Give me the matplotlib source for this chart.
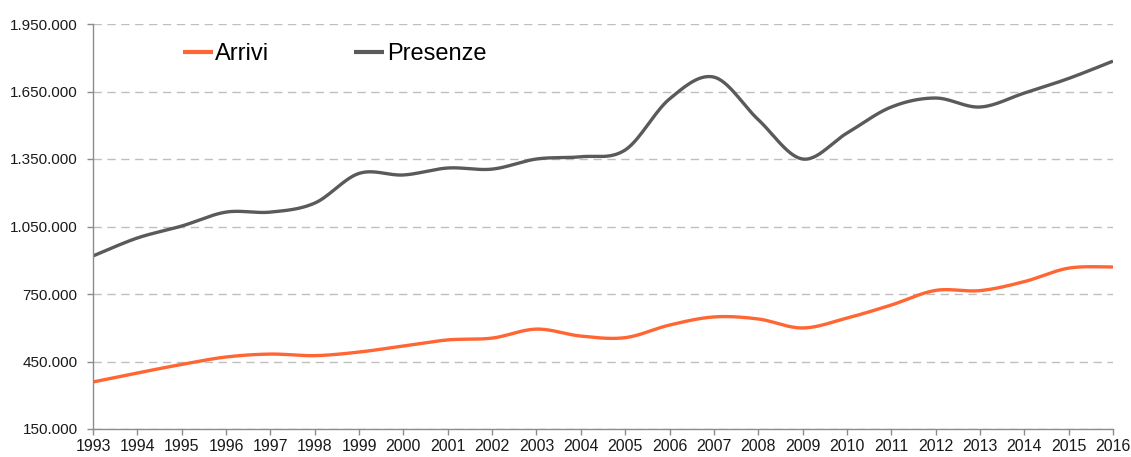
import matplotlib.pyplot as plt
import numpy as np
from matplotlib.ticker import FuncFormatter

plt.rcParams['font.family'] = ['Liberation Sans', 'DejaVu Sans']

years = list(range(1993, 2017))

arrivi = [359000, 399000, 437000, 470000, 483000, 476000, 492000, 519000,
          546000, 554000, 594000, 563000, 556000, 612000, 648000, 639000,
          599000, 643000, 701000, 766000, 765000, 805000, 865000, 870000]

presenze = [919000, 999000, 1052000, 1114000, 1114000, 1154000, 1286000, 1279000,
            1310000, 1305000, 1350000, 1360000, 1390000, 1617000, 1714000, 1525000,
            1350000, 1465000, 1581000, 1621000, 1581000, 1643000, 1708000, 1785000]

y_ticks = [150000, 450000, 750000, 1050000, 1350000, 1650000, 1950000]


def smooth(x, y, n=30):
    # excel-like smoothed line: cubic bezier through the points
    x = np.asarray(x, float)
    y = np.asarray(y, float)
    px = np.concatenate([[x[0]], x, [x[-1]]])
    py = np.concatenate([[y[0]], y, [y[-1]]])
    xs, ys = [], []
    t = np.linspace(0, 1, n)
    for i in range(1, len(px) - 2):
        p0 = np.array([px[i], py[i]])
        p3 = np.array([px[i + 1], py[i + 1]])
        c1 = p0 + (np.array([px[i + 1], py[i + 1]]) - np.array([px[i - 1], py[i - 1]])) / 6
        c2 = p3 - (np.array([px[i + 2], py[i + 2]]) - np.array([px[i], py[i]])) / 6
        b = ((1 - t) ** 3)[:, None] * p0 + (3 * (1 - t) ** 2 * t)[:, None] * c1 \
            + (3 * (1 - t) * t ** 2)[:, None] * c2 + (t ** 3)[:, None] * p3
        xs.extend(b[:, 0])
        ys.extend(b[:, 1])
    return xs, ys


fig = plt.figure(figsize=(11.31, 4.57), dpi=100)
ax = fig.add_axes([93 / 1131, 1 - 429 / 457, (1113 - 93) / 1131, (429 - 24) / 457])

sx, sy = smooth(years, arrivi)
ax.plot(sx, sy, color='#FF6633', lw=2.4, label='Arrivi', solid_capstyle='butt')
sx, sy = smooth(years, presenze)
ax.plot(sx, sy, color='#5A5A5A', lw=2.4, label='Presenze', solid_capstyle='butt')

ax.set_xlim(1993, 2016)
ax.set_ylim(150000, 1950000)
ax.set_xticks(years)
ax.set_yticks(y_ticks)
ax.yaxis.set_major_formatter(FuncFormatter(lambda v, p: f"{v:,.0f}".replace(',', '.')))

ax.grid(axis='y', color='#BFBFBF', linestyle=(0, (6, 4)), lw=1)
ax.set_axisbelow(True)

for s in ['top', 'right']:
    ax.spines[s].set_visible(False)
for s in ['left', 'bottom']:
    ax.spines[s].set_color('#8C8C8C')
    ax.spines[s].set_linewidth(1)

ax.tick_params(axis='x', length=4, width=1, color='#8C8C8C', pad=3,
               labelsize=11.5, labelcolor='#1A1A1A')
ax.tick_params(axis='y', length=4, width=1, color='#8C8C8C', pad=7,
               labelsize=11, labelcolor='#1A1A1A')

leg = ax.legend(loc='center left', bbox_to_anchor=(183 / 1131, 1 - 54 / 457),
                bbox_transform=fig.transFigure, ncol=2, frameon=False,
                fontsize=17, handlelength=1.25, handletextpad=0.12,
                columnspacing=3.6, borderpad=0, borderaxespad=0)
for h in leg.get_lines():
    h.set_linewidth(3)

fig.savefig('out.png', dpi=100)
